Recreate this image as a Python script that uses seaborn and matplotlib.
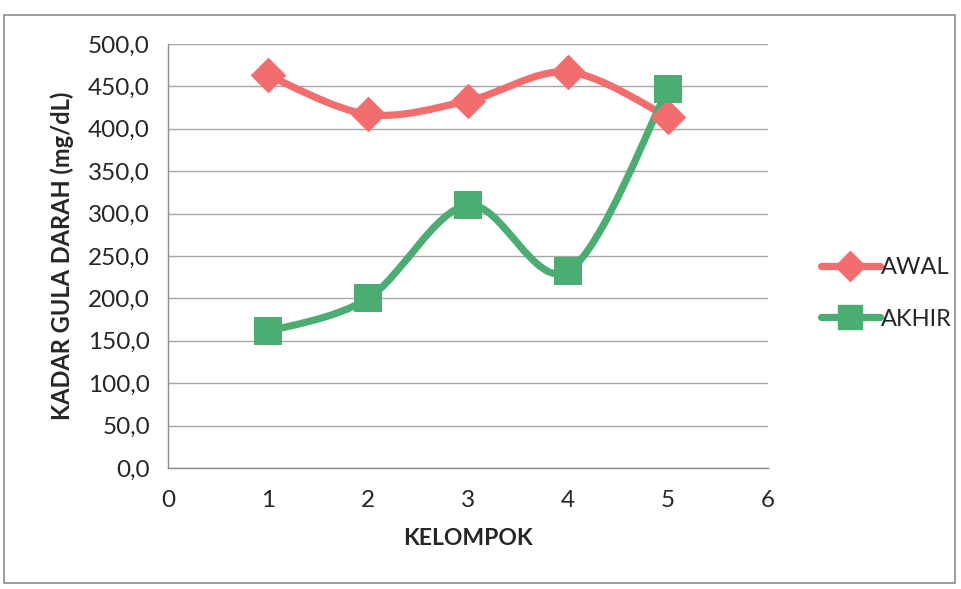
import numpy as np
import pandas as pd
import matplotlib
matplotlib.use("Agg")
import matplotlib.pyplot as plt
from matplotlib.path import Path
from matplotlib.patches import PathPatch, Rectangle
from matplotlib.lines import Line2D
from matplotlib.ticker import FuncFormatter
import seaborn as sns

kelompok = [1, 2, 3, 4, 5]
awal = [463, 417, 433, 467, 414]
akhir = [161, 200, 310, 232, 447]
series_names = ["AWAL", "AKHIR"]
colors = {"AWAL": "#F26E6E", "AKHIR": "#4CAD72"}
markers = {"AWAL": "D", "AKHIR": "s"}

df = pd.DataFrame({
    "KELOMPOK": kelompok * 2,
    "nilai": awal + akhir,
    "seri": ["AWAL"] * 5 + ["AKHIR"] * 5,
})

sns.set_theme(style="white")
plt.rcParams["font.family"] = ["Lato", "DejaVu Sans"]

fig = plt.figure(figsize=(9.61, 5.89), dpi=100)
ax = fig.add_axes([0.1748, 0.2054, 0.6244, 0.7199])

def smooth_path(xs, ys):
    pts = np.column_stack([xs, ys]).astype(float)
    n = len(pts)
    verts = [pts[0]]
    codes = [Path.MOVETO]
    for i in range(n - 1):
        p0 = pts[i - 1] if i > 0 else pts[i]
        p1 = pts[i]
        p2 = pts[i + 1]
        p3 = pts[i + 2] if i + 2 < n else pts[i + 1]
        c1 = p1 + (p2 - p0) / 6.0
        c2 = p2 - (p3 - p1) / 6.0
        verts += [c1, c2, p2]
        codes += [Path.CURVE4] * 3
    return Path(verts, codes)

for name, vals in [("AWAL", awal), ("AKHIR", akhir)]:
    patch = PathPatch(smooth_path(kelompok, vals), facecolor="none",
                      edgecolor=colors[name], lw=5.2, capstyle="round",
                      joinstyle="round", zorder=3)
    ax.add_patch(patch)

sizes = {"AWAL": 330, "AKHIR": 430}
for name in series_names:
    sub = df[df["seri"] == name]
    sns.scatterplot(data=sub, x="KELOMPOK", y="nilai", ax=ax,
                    marker=markers[name], color=colors[name],
                    s=sizes[name], edgecolor=colors[name], linewidth=0,
                    zorder=4, legend=False)

ax.set_xlim(0, 6)
ax.set_ylim(0, 500)
ax.set_xticks(range(0, 7))
ax.set_yticks(np.arange(0, 501, 50))
ax.yaxis.set_major_formatter(FuncFormatter(lambda v, p: f"{v:.1f}".replace(".", ",")))
ax.grid(axis="y", color="#A6A6A6", lw=1.0)
ax.grid(axis="x", visible=False)
for s in ["top", "right"]:
    ax.spines[s].set_visible(False)
for s in ["left", "bottom"]:
    ax.spines[s].set_color("#8C8C8C")
    ax.spines[s].set_linewidth(1.0)
ax.tick_params(axis="both", which="major", direction="out", length=5,
               color="#8C8C8C", labelsize=17.5, labelcolor="#262626")
ax.tick_params(axis="y", pad=8)
ax.tick_params(axis="x", pad=11)
ax.set_xlabel("KELOMPOK", fontsize=16.5, fontweight="bold", color="#262626", labelpad=12)
ax.set_ylabel("KADAR GULA DARAH (mg/dL)", fontsize=17, fontweight="bold", color="#262626", labelpad=10)

handles = [
    Line2D([], [], color=colors["AWAL"], lw=5.2, marker="D", markersize=15),
    Line2D([], [], color=colors["AKHIR"], lw=5.2, marker="s", markersize=17),
]
fig.legend(handles, series_names, loc="center left", bbox_to_anchor=(0.832, 0.502),
           frameon=False, fontsize=17, handlelength=2.5, handletextpad=0.05,
           labelspacing=1.3, labelcolor="#262626")

fig.patches.append(Rectangle((0.004, 0.010), 0.99, 0.964, transform=fig.transFigure,
                             fill=False, edgecolor="#8C8C8C", lw=1.2))

fig.savefig("out.png", dpi=100, facecolor="white")
